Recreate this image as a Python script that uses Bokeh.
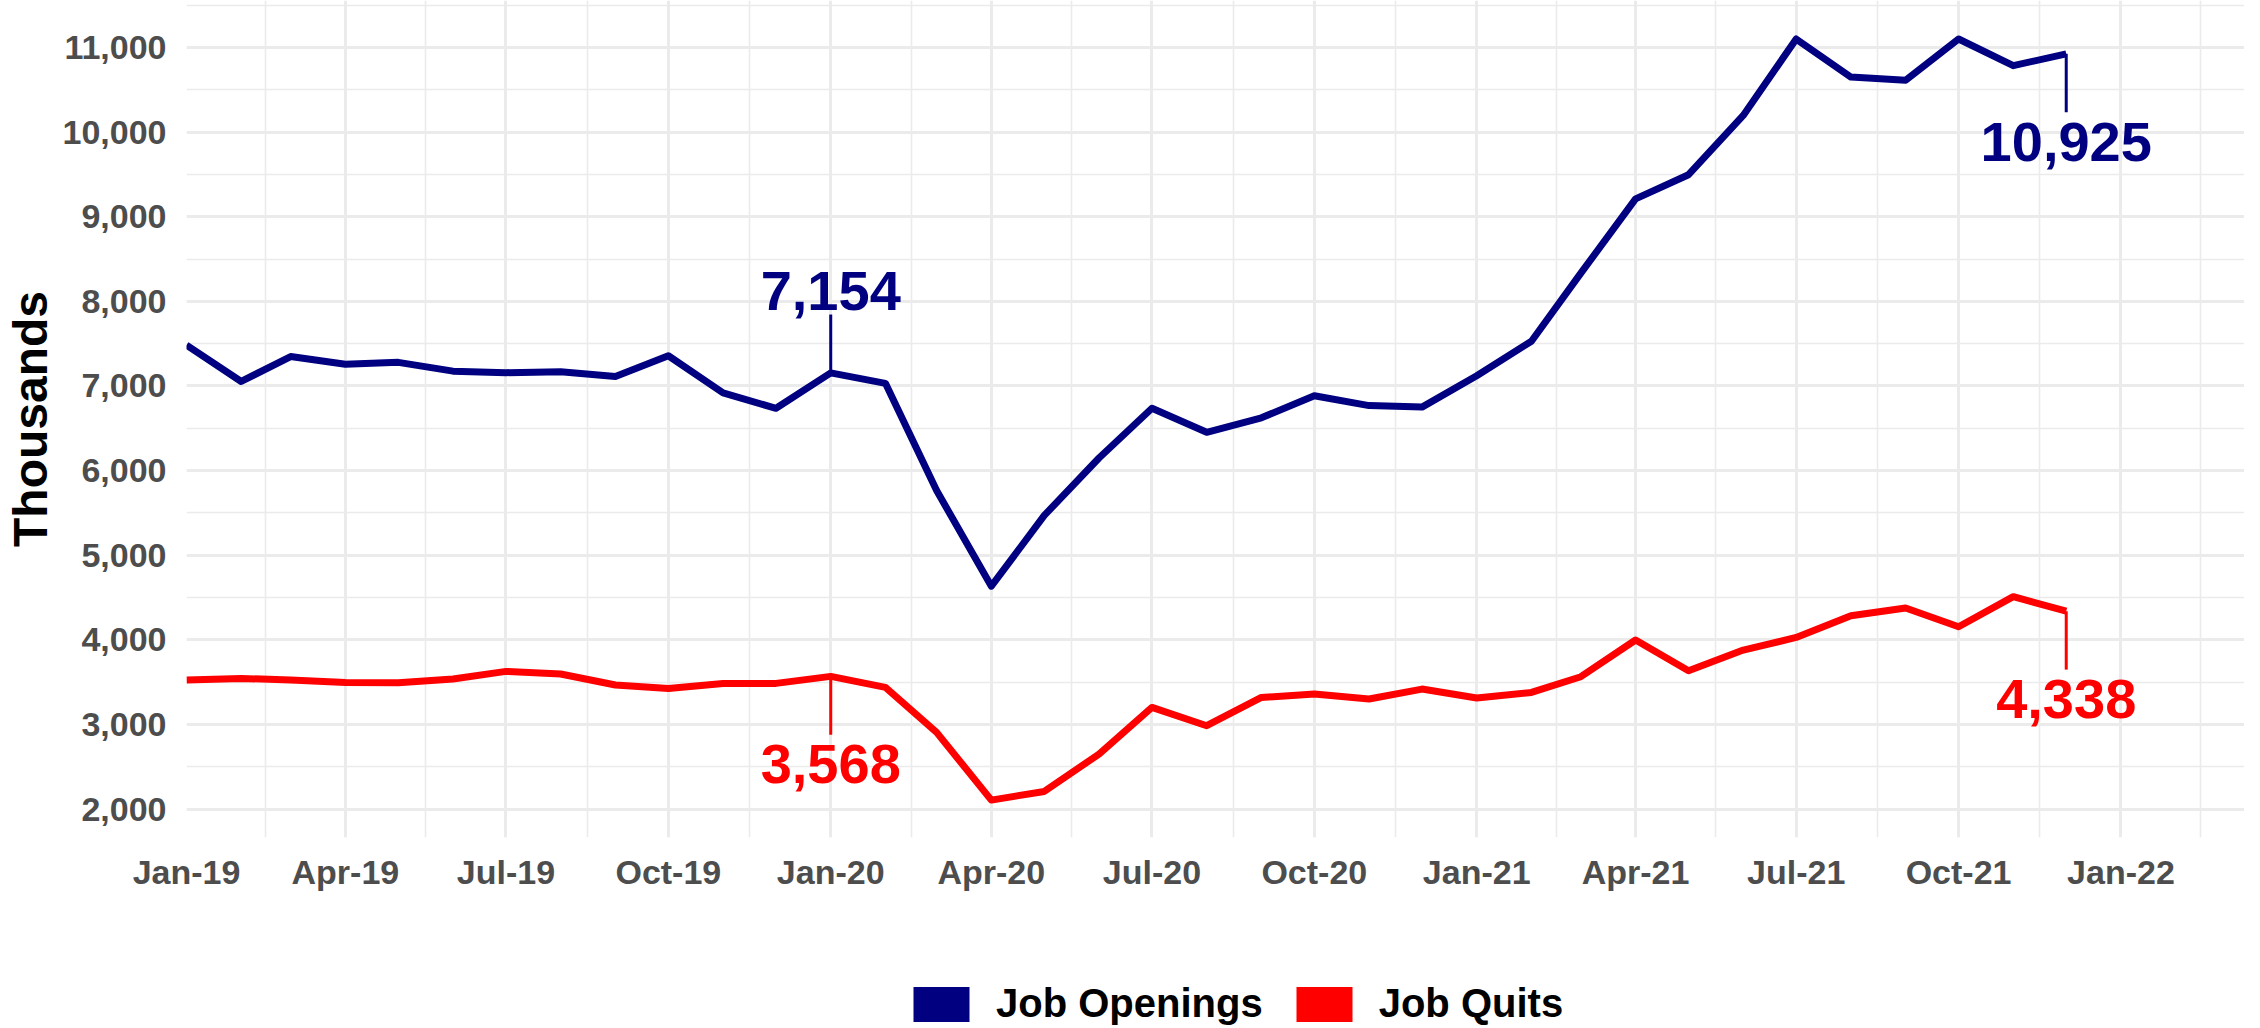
import pandas as pd
from bokeh.plotting import figure
from bokeh.layouts import column
from bokeh.models import (FixedTicker, NumeralTickFormatter, DatetimeTickFormatter,
                          Legend, LegendItem, Range1d, ColumnDataSource)
from bokeh.core.properties import value
from bokeh.embed import file_html
from bokeh.resources import INLINE

# ---------------- data ----------------
months = pd.date_range("2019-01-01", "2021-12-01", freq="MS")

job_openings = [7483, 7053, 7348, 7257, 7279, 7175, 7157, 7167, 7112, 7357, 6917, 6736,
                7154, 7031, 5764, 4634, 5470, 6149, 6736, 6452, 6624, 6885, 6768, 6750,
                7121, 7528, 8333, 9211, 9496, 10197, 11100, 10650, 10613, 11100, 10785, 10925]

job_quits = [3525, 3544, 3525, 3497, 3493, 3537, 3627, 3596, 3466, 3426, 3485, 3485,
             3568, 3438, 2906, 2106, 2208, 2650, 3201, 2985, 3319, 3359, 3300, 3418,
             3312, 3378, 3564, 3998, 3635, 3879, 4028, 4285, 4376, 4155, 4510, 4338]

series_names = ["Job Openings", "Job Quits"]
series_colors = ["#000080", "#FF0000"]

annot_dates = pd.to_datetime(["2020-01-01", "2021-12-01"])

y_ticks = [2000, 3000, 4000, 5000, 6000, 7000, 8000, 9000, 10000, 11000]
y_minor = [2500, 3500, 4500, 5500, 6500, 7500, 8500, 9500, 10500, 11500]
x_ticks = pd.date_range("2019-01-01", "2022-01-01", freq="QS")

# ---------------- figure ----------------
FONT = value("Liberation Sans")
GRID = "#EBEBEB"
STEM = 690       # annotation stem length (data units)
GAP_DN = 150     # gap between stem end and label below (data units)
GAP_UP = 210     # gap between stem end and label above (data units)

x_start = pd.Timestamp("2019-01-01")
x_end = pd.Timestamp("2022-03-12")

p = figure(width=2244, height=948, x_axis_type="datetime",
           x_range=Range1d(x_start, x_end), y_range=Range1d(1664, 11555),
           output_backend="svg", toolbar_location=None,
           min_border_left=180, min_border_right=0, min_border_top=0, min_border_bottom=111)
p.outline_line_color = None
p.background_fill_color = "white"
p.border_fill_color = "white"

# ticks / grids
tick_ms = [t.value // 10**6 for t in x_ticks]
mid_ms = []
for a, b in zip(x_ticks[:-1], x_ticks[1:]):
    mid_ms.append(((a.value + b.value) // 2) // 10**6)
last = x_ticks[-1]
nxt = last + pd.DateOffset(months=3)
mid_ms.append(((last.value + nxt.value) // 2) // 10**6)

p.xaxis.ticker = FixedTicker(ticks=tick_ms, minor_ticks=mid_ms)
p.xaxis.formatter = DatetimeTickFormatter(months="%b-%y", days="%b-%y", years="%b-%y",
                                          hours="%b-%y", minutes="%b-%y")
p.yaxis.ticker = FixedTicker(ticks=y_ticks, minor_ticks=y_minor)
p.yaxis.formatter = NumeralTickFormatter(format="0,0")

for ax in (p.xaxis[0], p.yaxis[0]):
    ax.axis_line_color = None
    ax.major_tick_line_color = None
    ax.minor_tick_line_color = None
    ax.major_tick_out = 0
    ax.major_tick_in = 0
    ax.minor_tick_out = 0
    ax.minor_tick_in = 0
    ax.major_label_text_font = "Liberation Sans"
    ax.major_label_text_font_style = "bold"
    ax.major_label_text_font_size = "34px"
    ax.major_label_text_color = "#4D4D4D"

p.yaxis.major_label_standoff = 20
p.yaxis.axis_label = "Thousands"
p.yaxis.axis_label_text_font = "Liberation Sans"
p.yaxis.axis_label_text_font_style = "bold"
p.yaxis.axis_label_text_font_size = "48px"
p.yaxis.axis_label_text_color = "black"
p.yaxis.axis_label_standoff = 3

p.xaxis.major_label_standoff = 15

for g in (p.xgrid[0], p.ygrid[0]):
    g.grid_line_color = GRID
    g.grid_line_width = 3
    g.minor_grid_line_color = GRID
    g.minor_grid_line_width = 1.6

# lines
series = [job_openings, job_quits]
for vals, col in zip(series, series_colors):
    p.line(months, vals, line_color=col, line_width=7, line_join="round")

# annotations (stem + value label)
for k, (vals, col) in enumerate(zip(series, series_colors)):
    idx = [list(months).index(d) for d in annot_dates]
    yv = [vals[i] for i in idx]
    labels = ["{:,}".format(v) for v in yv]
    if k == 0:
        ends = [yv[0] + STEM, yv[1] - STEM]
        src_up = ColumnDataSource(dict(x=[annot_dates[0]], y=[ends[0] + GAP_UP], t=[labels[0]]))
        src_dn = ColumnDataSource(dict(x=[annot_dates[1]], y=[ends[1] - GAP_DN], t=[labels[1]]))
    else:
        ends = [yv[0] - STEM, yv[1] - STEM]
        src_up = None
        src_dn = ColumnDataSource(dict(x=list(annot_dates), y=[e - GAP_DN for e in ends], t=labels))
    p.segment(x0=list(annot_dates), y0=yv, x1=list(annot_dates), y1=ends,
              line_color=col, line_width=3)
    if src_up is not None:
        p.text(x="x", y="y", text="t", source=src_up, text_font=FONT, text_font_style="bold",
               text_font_size="56px", text_color=col, text_align="center",
               text_baseline="alphabetic", y_offset=-6)
    p.text(x="x", y="y", text="t", source=src_dn, text_font=FONT, text_font_style="bold",
           text_font_size="56px", text_color=col, text_align="center",
           text_baseline="top", y_offset=-2)

# ---------------- legend (separate strip below) ----------------
lg = figure(width=2244, height=78, x_range=Range1d(0, 1), y_range=Range1d(0, 1),
            output_backend="svg", toolbar_location=None,
            min_border_left=180, min_border_right=0, min_border_top=0, min_border_bottom=0)
lg.axis.visible = False
lg.grid.visible = False
lg.outline_line_color = None
lg.background_fill_color = "white"
lg.border_fill_color = "white"

items = []
for name, col in zip(series_names, series_colors):
    r = lg.rect(x=[0.5], y=[0.5], width=0, height=0, fill_color=col, line_color=None)
    items.append(LegendItem(label=name, renderers=[r]))
legend = Legend(items=items, orientation="horizontal", location=(720, 0),
                glyph_width=70, glyph_height=44, label_standoff=20, spacing=26,
                label_text_font="Liberation Sans", label_text_font_style="bold",
                label_text_font_size="40px", label_text_color="black",
                border_line_color=None, background_fill_alpha=0, padding=0, margin=0)
lg.add_layout(legend, "center")

layout = column(p, lg, spacing=0)
open("out.html", "w").write(file_html(layout, INLINE))
